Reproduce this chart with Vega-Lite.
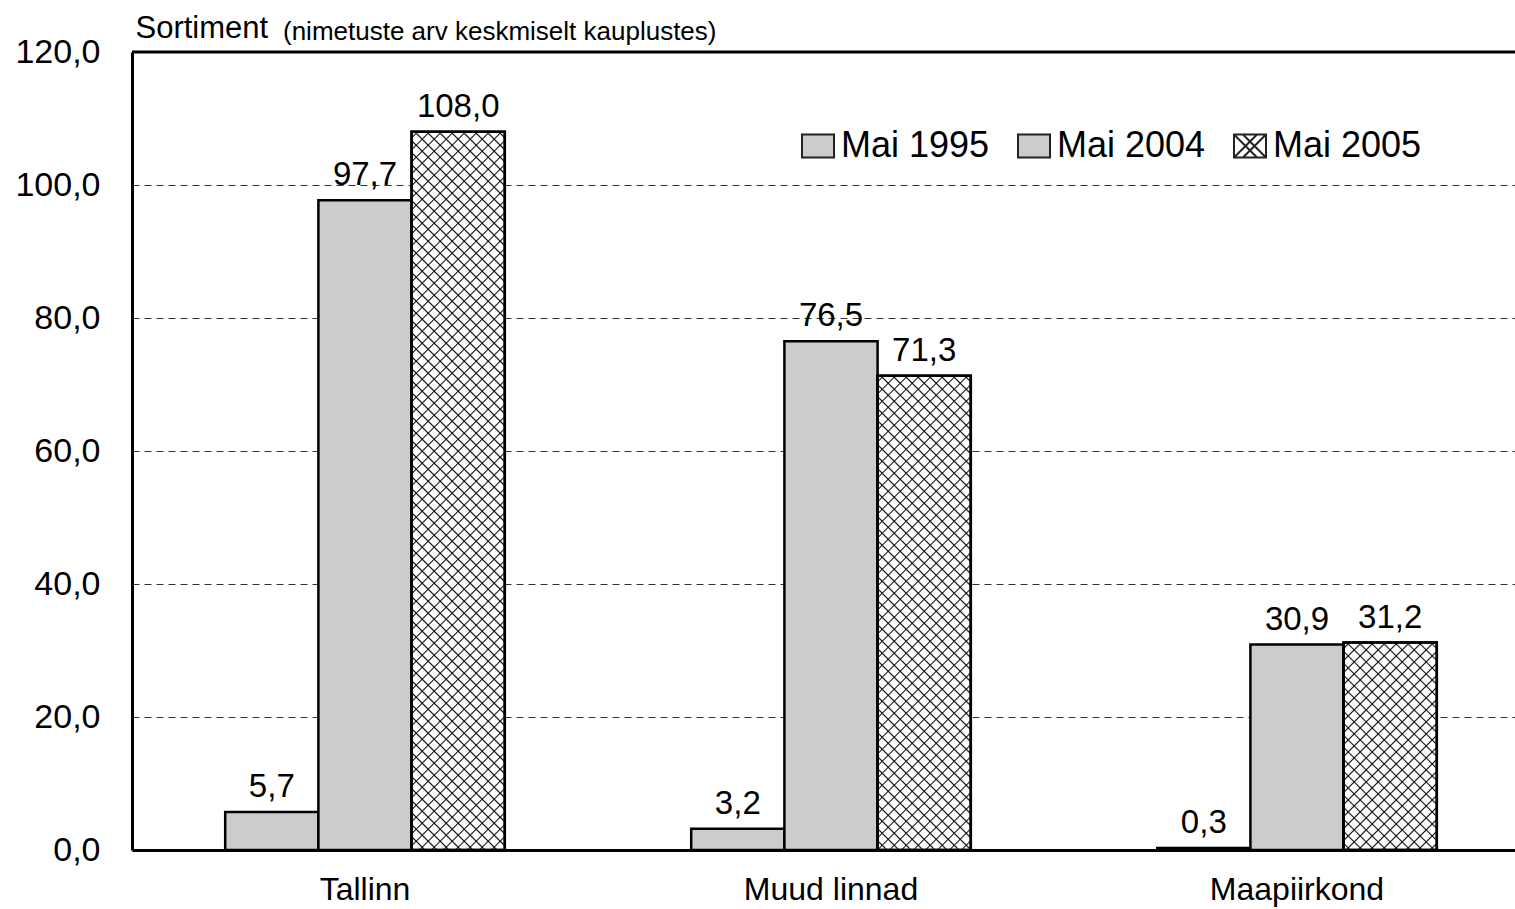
{
"$schema": "https://vega.github.io/schema/vega-lite/v6.json",
"width": 1383, "height": 798,
"autosize": {"type": "none"},
"padding": {"left": 132, "top": 52, "right": 0, "bottom": 59},
"background": "white",
"config": {
  "font": "Liberation Sans",
  "locale": {"number": {"decimal": ",", "thousands": " ", "grouping": [3], "currency": ["", " €"]}},
  "view": {"stroke": null},
  "axis": {"labelFont": "Liberation Sans", "labelColor": "black", "ticks": false, "domainColor": "black", "domainWidth": 3, "labelFontSize": 34}
},
"title": {"text": "(nimetuste arv keskmiselt kauplustes)", "anchor": "start", "frame": "group", "dx": 151, "dy": 54, "offset": 0, "fontSize": 26, "fontWeight": "normal", "font": "Liberation Sans", "color": "black", "baseline": "alphabetic"},
"datasets": {"d": [
  {"region": "Tallinn", "series": "Mai 1995", "value": 5.7},
  {"region": "Tallinn", "series": "Mai 2004", "value": 97.7},
  {"region": "Tallinn", "series": "Mai 2005", "value": 108.0},
  {"region": "Muud linnad", "series": "Mai 1995", "value": 3.2},
  {"region": "Muud linnad", "series": "Mai 2004", "value": 76.5},
  {"region": "Muud linnad", "series": "Mai 2005", "value": 71.3},
  {"region": "Maapiirkond", "series": "Mai 1995", "value": 0.3},
  {"region": "Maapiirkond", "series": "Mai 2004", "value": 30.9},
  {"region": "Maapiirkond", "series": "Mai 2005", "value": 31.2}
]},
"layer": [
{
  "data": {"name": "d"},
  "encoding": {
    "x": {"field": "region", "type": "nominal", "scale": {"domain": ["Tallinn", "Muud linnad", "Maapiirkond"], "range": [0, 1398], "paddingInner": 0, "paddingOuter": 0}, "axis": {"title": null, "labelPadding": 24, "labelFontSize": 32, "labelAngle": 0}},
    "xOffset": {"field": "series", "type": "nominal", "scale": {"domain": ["Mai 1995", "Mai 2004", "Mai 2005"], "paddingInner": 0, "paddingOuter": 1}},
    "y": {"field": "value", "type": "quantitative", "scale": {"domain": [0, 120], "nice": false, "zero": true}, "axis": {"values": [0, 20, 40, 60, 80, 100, 120], "format": ".1f", "grid": true, "gridColor": "#333", "gridDash": [7, 5], "gridWidth": 1.2, "labelPadding": 32, "title": "Sortiment", "titleAngle": 0, "titleAlign": "left", "titleBaseline": "alphabetic", "titleX": 3, "titleY": -15, "titleFontSize": 31, "titleFontWeight": "normal", "titleColor": "black", "titleFont": "Liberation Sans"}}
  },
  "layer": [
    {"mark": {"type": "bar", "stroke": "black", "strokeWidth": 2.5},
     "encoding": {"color": {"field": "series", "type": "nominal", "scale": {"domain": ["Mai 1995", "Mai 2004", "Mai 2005"], "range": ["#cccccc", "#cccccc", "#ffffff"]},
       "legend": {"title": null, "orient": "none", "legendX": 668, "legendY": 76, "direction": "horizontal", "symbolType": "M-1,-0.72H1V0.72H-1Z", "symbolSize": 1024, "symbolStrokeColor": "#222", "symbolStrokeWidth": 2, "labelFontSize": 36, "labelFont": "Liberation Sans", "labelColor": "black", "labelOffset": 5, "columnPadding": 24, "padding": 0,
         "encode": {"symbols": {"update": {"shape": {"signal": "datum.value === 'Mai 2005' ? 'M-1,-0.72H1V0.72H-1Z M-1,-0.72L0.44,0.72 M-0.44,-0.72L1,0.72 M1,-0.72L-0.44,0.72 M0.44,-0.72L-1,0.72' : 'M-1,-0.72H1V0.72H-1Z'"}, "stroke": {"value": "#222"}, "strokeWidth": {"value": 2}}}}}}}},
    {"transform": [{"filter": "datum.series === 'Mai 2005' && datum.region === 'Tallinn'"}],
     "mark": {"type": "bar", "strokeWidth": 0, "fill": {"gradient": "linear", "x1": 0, "y1": 0, "x2": 0.14926, "y2": 1.15022, "stops": [
{"offset":0.00534,"color":"#0000"},{"offset":0.00714,"color":"#111"},{"offset":0.00894,"color":"#0000"},{"offset":0.01963,"color":"#0000"},{"offset":0.02143,"color":"#111"},{"offset":0.02323,"color":"#0000"},{"offset":0.03391,"color":"#0000"},{"offset":0.03571,"color":"#111"},{"offset":0.03751,"color":"#0000"},{"offset":0.0482,"color":"#0000"},{"offset":0.05,"color":"#111"},{"offset":0.0518,"color":"#0000"},{"offset":0.06249,"color":"#0000"},{"offset":0.06429,"color":"#111"},{"offset":0.06609,"color":"#0000"},{"offset":0.07677,"color":"#0000"},{"offset":0.07857,"color":"#111"},{"offset":0.08037,"color":"#0000"},{"offset":0.09106,"color":"#0000"},{"offset":0.09286,"color":"#111"},{"offset":0.09466,"color":"#0000"},
{"offset":0.10534,"color":"#0000"},{"offset":0.10714,"color":"#111"},{"offset":0.10894,"color":"#0000"},{"offset":0.11963,"color":"#0000"},{"offset":0.12143,"color":"#111"},{"offset":0.12323,"color":"#0000"},{"offset":0.13391,"color":"#0000"},{"offset":0.13571,"color":"#111"},{"offset":0.13751,"color":"#0000"},{"offset":0.1482,"color":"#0000"},{"offset":0.15,"color":"#111"},{"offset":0.1518,"color":"#0000"},{"offset":0.16249,"color":"#0000"},{"offset":0.16429,"color":"#111"},{"offset":0.16609,"color":"#0000"},{"offset":0.17677,"color":"#0000"},{"offset":0.17857,"color":"#111"},{"offset":0.18037,"color":"#0000"},{"offset":0.19106,"color":"#0000"},{"offset":0.19286,"color":"#111"},{"offset":0.19466,"color":"#0000"},
{"offset":0.20534,"color":"#0000"},{"offset":0.20714,"color":"#111"},{"offset":0.20894,"color":"#0000"},{"offset":0.21963,"color":"#0000"},{"offset":0.22143,"color":"#111"},{"offset":0.22323,"color":"#0000"},{"offset":0.23391,"color":"#0000"},{"offset":0.23571,"color":"#111"},{"offset":0.23751,"color":"#0000"},{"offset":0.2482,"color":"#0000"},{"offset":0.25,"color":"#111"},{"offset":0.2518,"color":"#0000"},{"offset":0.26249,"color":"#0000"},{"offset":0.26429,"color":"#111"},{"offset":0.26609,"color":"#0000"},{"offset":0.27677,"color":"#0000"},{"offset":0.27857,"color":"#111"},{"offset":0.28037,"color":"#0000"},{"offset":0.29106,"color":"#0000"},{"offset":0.29286,"color":"#111"},{"offset":0.29466,"color":"#0000"},
{"offset":0.30534,"color":"#0000"},{"offset":0.30714,"color":"#111"},{"offset":0.30894,"color":"#0000"},{"offset":0.31963,"color":"#0000"},{"offset":0.32143,"color":"#111"},{"offset":0.32323,"color":"#0000"},{"offset":0.33391,"color":"#0000"},{"offset":0.33571,"color":"#111"},{"offset":0.33751,"color":"#0000"},{"offset":0.3482,"color":"#0000"},{"offset":0.35,"color":"#111"},{"offset":0.3518,"color":"#0000"},{"offset":0.36249,"color":"#0000"},{"offset":0.36429,"color":"#111"},{"offset":0.36609,"color":"#0000"},{"offset":0.37677,"color":"#0000"},{"offset":0.37857,"color":"#111"},{"offset":0.38037,"color":"#0000"},{"offset":0.39106,"color":"#0000"},{"offset":0.39286,"color":"#111"},{"offset":0.39466,"color":"#0000"},
{"offset":0.40534,"color":"#0000"},{"offset":0.40714,"color":"#111"},{"offset":0.40894,"color":"#0000"},{"offset":0.41963,"color":"#0000"},{"offset":0.42143,"color":"#111"},{"offset":0.42323,"color":"#0000"},{"offset":0.43391,"color":"#0000"},{"offset":0.43571,"color":"#111"},{"offset":0.43751,"color":"#0000"},{"offset":0.4482,"color":"#0000"},{"offset":0.45,"color":"#111"},{"offset":0.4518,"color":"#0000"},{"offset":0.46249,"color":"#0000"},{"offset":0.46429,"color":"#111"},{"offset":0.46609,"color":"#0000"},{"offset":0.47677,"color":"#0000"},{"offset":0.47857,"color":"#111"},{"offset":0.48037,"color":"#0000"},{"offset":0.49106,"color":"#0000"},{"offset":0.49286,"color":"#111"},{"offset":0.49466,"color":"#0000"},
{"offset":0.50534,"color":"#0000"},{"offset":0.50714,"color":"#111"},{"offset":0.50894,"color":"#0000"},{"offset":0.51963,"color":"#0000"},{"offset":0.52143,"color":"#111"},{"offset":0.52323,"color":"#0000"},{"offset":0.53391,"color":"#0000"},{"offset":0.53571,"color":"#111"},{"offset":0.53751,"color":"#0000"},{"offset":0.5482,"color":"#0000"},{"offset":0.55,"color":"#111"},{"offset":0.5518,"color":"#0000"},{"offset":0.56249,"color":"#0000"},{"offset":0.56429,"color":"#111"},{"offset":0.56609,"color":"#0000"},{"offset":0.57677,"color":"#0000"},{"offset":0.57857,"color":"#111"},{"offset":0.58037,"color":"#0000"},{"offset":0.59106,"color":"#0000"},{"offset":0.59286,"color":"#111"},{"offset":0.59466,"color":"#0000"},
{"offset":0.60534,"color":"#0000"},{"offset":0.60714,"color":"#111"},{"offset":0.60894,"color":"#0000"},{"offset":0.61963,"color":"#0000"},{"offset":0.62143,"color":"#111"},{"offset":0.62323,"color":"#0000"},{"offset":0.63391,"color":"#0000"},{"offset":0.63571,"color":"#111"},{"offset":0.63751,"color":"#0000"},{"offset":0.6482,"color":"#0000"},{"offset":0.65,"color":"#111"},{"offset":0.6518,"color":"#0000"},{"offset":0.66249,"color":"#0000"},{"offset":0.66429,"color":"#111"},{"offset":0.66609,"color":"#0000"},{"offset":0.67677,"color":"#0000"},{"offset":0.67857,"color":"#111"},{"offset":0.68037,"color":"#0000"},{"offset":0.69106,"color":"#0000"},{"offset":0.69286,"color":"#111"},{"offset":0.69466,"color":"#0000"},
{"offset":0.70534,"color":"#0000"},{"offset":0.70714,"color":"#111"},{"offset":0.70894,"color":"#0000"},{"offset":0.71963,"color":"#0000"},{"offset":0.72143,"color":"#111"},{"offset":0.72323,"color":"#0000"},{"offset":0.73391,"color":"#0000"},{"offset":0.73571,"color":"#111"},{"offset":0.73751,"color":"#0000"},{"offset":0.7482,"color":"#0000"},{"offset":0.75,"color":"#111"},{"offset":0.7518,"color":"#0000"},{"offset":0.76249,"color":"#0000"},{"offset":0.76429,"color":"#111"},{"offset":0.76609,"color":"#0000"},{"offset":0.77677,"color":"#0000"},{"offset":0.77857,"color":"#111"},{"offset":0.78037,"color":"#0000"},{"offset":0.79106,"color":"#0000"},{"offset":0.79286,"color":"#111"},{"offset":0.79466,"color":"#0000"},
{"offset":0.80534,"color":"#0000"},{"offset":0.80714,"color":"#111"},{"offset":0.80894,"color":"#0000"},{"offset":0.81963,"color":"#0000"},{"offset":0.82143,"color":"#111"},{"offset":0.82323,"color":"#0000"},{"offset":0.83391,"color":"#0000"},{"offset":0.83571,"color":"#111"},{"offset":0.83751,"color":"#0000"},{"offset":0.8482,"color":"#0000"},{"offset":0.85,"color":"#111"},{"offset":0.8518,"color":"#0000"},{"offset":0.86249,"color":"#0000"},{"offset":0.86429,"color":"#111"},{"offset":0.86609,"color":"#0000"},{"offset":0.87677,"color":"#0000"},{"offset":0.87857,"color":"#111"},{"offset":0.88037,"color":"#0000"},{"offset":0.89106,"color":"#0000"},{"offset":0.89286,"color":"#111"},{"offset":0.89466,"color":"#0000"},
{"offset":0.90534,"color":"#0000"},{"offset":0.90714,"color":"#111"},{"offset":0.90894,"color":"#0000"},{"offset":0.91963,"color":"#0000"},{"offset":0.92143,"color":"#111"},{"offset":0.92323,"color":"#0000"},{"offset":0.93391,"color":"#0000"},{"offset":0.93571,"color":"#111"},{"offset":0.93751,"color":"#0000"},{"offset":0.9482,"color":"#0000"},{"offset":0.95,"color":"#111"},{"offset":0.9518,"color":"#0000"},{"offset":0.96249,"color":"#0000"},{"offset":0.96429,"color":"#111"},{"offset":0.96609,"color":"#0000"}
]}}},
    {"transform": [{"filter": "datum.series === 'Mai 2005' && datum.region === 'Tallinn'"}],
     "mark": {"type": "bar", "strokeWidth": 0, "fill": {"gradient": "linear", "x1": 1, "y1": 0, "x2": 0.85074, "y2": 1.15022, "stops": [
{"offset":0.00534,"color":"#0000"},{"offset":0.00714,"color":"#111"},{"offset":0.00894,"color":"#0000"},{"offset":0.01963,"color":"#0000"},{"offset":0.02143,"color":"#111"},{"offset":0.02323,"color":"#0000"},{"offset":0.03391,"color":"#0000"},{"offset":0.03571,"color":"#111"},{"offset":0.03751,"color":"#0000"},{"offset":0.0482,"color":"#0000"},{"offset":0.05,"color":"#111"},{"offset":0.0518,"color":"#0000"},{"offset":0.06249,"color":"#0000"},{"offset":0.06429,"color":"#111"},{"offset":0.06609,"color":"#0000"},{"offset":0.07677,"color":"#0000"},{"offset":0.07857,"color":"#111"},{"offset":0.08037,"color":"#0000"},{"offset":0.09106,"color":"#0000"},{"offset":0.09286,"color":"#111"},{"offset":0.09466,"color":"#0000"},
{"offset":0.10534,"color":"#0000"},{"offset":0.10714,"color":"#111"},{"offset":0.10894,"color":"#0000"},{"offset":0.11963,"color":"#0000"},{"offset":0.12143,"color":"#111"},{"offset":0.12323,"color":"#0000"},{"offset":0.13391,"color":"#0000"},{"offset":0.13571,"color":"#111"},{"offset":0.13751,"color":"#0000"},{"offset":0.1482,"color":"#0000"},{"offset":0.15,"color":"#111"},{"offset":0.1518,"color":"#0000"},{"offset":0.16249,"color":"#0000"},{"offset":0.16429,"color":"#111"},{"offset":0.16609,"color":"#0000"},{"offset":0.17677,"color":"#0000"},{"offset":0.17857,"color":"#111"},{"offset":0.18037,"color":"#0000"},{"offset":0.19106,"color":"#0000"},{"offset":0.19286,"color":"#111"},{"offset":0.19466,"color":"#0000"},
{"offset":0.20534,"color":"#0000"},{"offset":0.20714,"color":"#111"},{"offset":0.20894,"color":"#0000"},{"offset":0.21963,"color":"#0000"},{"offset":0.22143,"color":"#111"},{"offset":0.22323,"color":"#0000"},{"offset":0.23391,"color":"#0000"},{"offset":0.23571,"color":"#111"},{"offset":0.23751,"color":"#0000"},{"offset":0.2482,"color":"#0000"},{"offset":0.25,"color":"#111"},{"offset":0.2518,"color":"#0000"},{"offset":0.26249,"color":"#0000"},{"offset":0.26429,"color":"#111"},{"offset":0.26609,"color":"#0000"},{"offset":0.27677,"color":"#0000"},{"offset":0.27857,"color":"#111"},{"offset":0.28037,"color":"#0000"},{"offset":0.29106,"color":"#0000"},{"offset":0.29286,"color":"#111"},{"offset":0.29466,"color":"#0000"},
{"offset":0.30534,"color":"#0000"},{"offset":0.30714,"color":"#111"},{"offset":0.30894,"color":"#0000"},{"offset":0.31963,"color":"#0000"},{"offset":0.32143,"color":"#111"},{"offset":0.32323,"color":"#0000"},{"offset":0.33391,"color":"#0000"},{"offset":0.33571,"color":"#111"},{"offset":0.33751,"color":"#0000"},{"offset":0.3482,"color":"#0000"},{"offset":0.35,"color":"#111"},{"offset":0.3518,"color":"#0000"},{"offset":0.36249,"color":"#0000"},{"offset":0.36429,"color":"#111"},{"offset":0.36609,"color":"#0000"},{"offset":0.37677,"color":"#0000"},{"offset":0.37857,"color":"#111"},{"offset":0.38037,"color":"#0000"},{"offset":0.39106,"color":"#0000"},{"offset":0.39286,"color":"#111"},{"offset":0.39466,"color":"#0000"},
{"offset":0.40534,"color":"#0000"},{"offset":0.40714,"color":"#111"},{"offset":0.40894,"color":"#0000"},{"offset":0.41963,"color":"#0000"},{"offset":0.42143,"color":"#111"},{"offset":0.42323,"color":"#0000"},{"offset":0.43391,"color":"#0000"},{"offset":0.43571,"color":"#111"},{"offset":0.43751,"color":"#0000"},{"offset":0.4482,"color":"#0000"},{"offset":0.45,"color":"#111"},{"offset":0.4518,"color":"#0000"},{"offset":0.46249,"color":"#0000"},{"offset":0.46429,"color":"#111"},{"offset":0.46609,"color":"#0000"},{"offset":0.47677,"color":"#0000"},{"offset":0.47857,"color":"#111"},{"offset":0.48037,"color":"#0000"},{"offset":0.49106,"color":"#0000"},{"offset":0.49286,"color":"#111"},{"offset":0.49466,"color":"#0000"},
{"offset":0.50534,"color":"#0000"},{"offset":0.50714,"color":"#111"},{"offset":0.50894,"color":"#0000"},{"offset":0.51963,"color":"#0000"},{"offset":0.52143,"color":"#111"},{"offset":0.52323,"color":"#0000"},{"offset":0.53391,"color":"#0000"},{"offset":0.53571,"color":"#111"},{"offset":0.53751,"color":"#0000"},{"offset":0.5482,"color":"#0000"},{"offset":0.55,"color":"#111"},{"offset":0.5518,"color":"#0000"},{"offset":0.56249,"color":"#0000"},{"offset":0.56429,"color":"#111"},{"offset":0.56609,"color":"#0000"},{"offset":0.57677,"color":"#0000"},{"offset":0.57857,"color":"#111"},{"offset":0.58037,"color":"#0000"},{"offset":0.59106,"color":"#0000"},{"offset":0.59286,"color":"#111"},{"offset":0.59466,"color":"#0000"},
{"offset":0.60534,"color":"#0000"},{"offset":0.60714,"color":"#111"},{"offset":0.60894,"color":"#0000"},{"offset":0.61963,"color":"#0000"},{"offset":0.62143,"color":"#111"},{"offset":0.62323,"color":"#0000"},{"offset":0.63391,"color":"#0000"},{"offset":0.63571,"color":"#111"},{"offset":0.63751,"color":"#0000"},{"offset":0.6482,"color":"#0000"},{"offset":0.65,"color":"#111"},{"offset":0.6518,"color":"#0000"},{"offset":0.66249,"color":"#0000"},{"offset":0.66429,"color":"#111"},{"offset":0.66609,"color":"#0000"},{"offset":0.67677,"color":"#0000"},{"offset":0.67857,"color":"#111"},{"offset":0.68037,"color":"#0000"},{"offset":0.69106,"color":"#0000"},{"offset":0.69286,"color":"#111"},{"offset":0.69466,"color":"#0000"},
{"offset":0.70534,"color":"#0000"},{"offset":0.70714,"color":"#111"},{"offset":0.70894,"color":"#0000"},{"offset":0.71963,"color":"#0000"},{"offset":0.72143,"color":"#111"},{"offset":0.72323,"color":"#0000"},{"offset":0.73391,"color":"#0000"},{"offset":0.73571,"color":"#111"},{"offset":0.73751,"color":"#0000"},{"offset":0.7482,"color":"#0000"},{"offset":0.75,"color":"#111"},{"offset":0.7518,"color":"#0000"},{"offset":0.76249,"color":"#0000"},{"offset":0.76429,"color":"#111"},{"offset":0.76609,"color":"#0000"},{"offset":0.77677,"color":"#0000"},{"offset":0.77857,"color":"#111"},{"offset":0.78037,"color":"#0000"},{"offset":0.79106,"color":"#0000"},{"offset":0.79286,"color":"#111"},{"offset":0.79466,"color":"#0000"},
{"offset":0.80534,"color":"#0000"},{"offset":0.80714,"color":"#111"},{"offset":0.80894,"color":"#0000"},{"offset":0.81963,"color":"#0000"},{"offset":0.82143,"color":"#111"},{"offset":0.82323,"color":"#0000"},{"offset":0.83391,"color":"#0000"},{"offset":0.83571,"color":"#111"},{"offset":0.83751,"color":"#0000"},{"offset":0.8482,"color":"#0000"},{"offset":0.85,"color":"#111"},{"offset":0.8518,"color":"#0000"},{"offset":0.86249,"color":"#0000"},{"offset":0.86429,"color":"#111"},{"offset":0.86609,"color":"#0000"},{"offset":0.87677,"color":"#0000"},{"offset":0.87857,"color":"#111"},{"offset":0.88037,"color":"#0000"},{"offset":0.89106,"color":"#0000"},{"offset":0.89286,"color":"#111"},{"offset":0.89466,"color":"#0000"},
{"offset":0.90534,"color":"#0000"},{"offset":0.90714,"color":"#111"},{"offset":0.90894,"color":"#0000"},{"offset":0.91963,"color":"#0000"},{"offset":0.92143,"color":"#111"},{"offset":0.92323,"color":"#0000"},{"offset":0.93391,"color":"#0000"},{"offset":0.93571,"color":"#111"},{"offset":0.93751,"color":"#0000"},{"offset":0.9482,"color":"#0000"},{"offset":0.95,"color":"#111"},{"offset":0.9518,"color":"#0000"},{"offset":0.96249,"color":"#0000"},{"offset":0.96429,"color":"#111"},{"offset":0.96609,"color":"#0000"}
]}}},
    {"transform": [{"filter": "datum.series === 'Mai 2005' && datum.region === 'Muud linnad'"}],
     "mark": {"type": "bar", "strokeWidth": 0, "fill": {"gradient": "linear", "x1": 0, "y1": 0, "x2": 0.33528, "y2": 1.7057, "stops": [
{"offset":0.00534,"color":"#0000"},{"offset":0.00714,"color":"#111"},{"offset":0.00894,"color":"#0000"},{"offset":0.01963,"color":"#0000"},{"offset":0.02143,"color":"#111"},{"offset":0.02323,"color":"#0000"},{"offset":0.03391,"color":"#0000"},{"offset":0.03571,"color":"#111"},{"offset":0.03751,"color":"#0000"},{"offset":0.0482,"color":"#0000"},{"offset":0.05,"color":"#111"},{"offset":0.0518,"color":"#0000"},{"offset":0.06249,"color":"#0000"},{"offset":0.06429,"color":"#111"},{"offset":0.06609,"color":"#0000"},{"offset":0.07677,"color":"#0000"},{"offset":0.07857,"color":"#111"},{"offset":0.08037,"color":"#0000"},{"offset":0.09106,"color":"#0000"},{"offset":0.09286,"color":"#111"},{"offset":0.09466,"color":"#0000"},
{"offset":0.10534,"color":"#0000"},{"offset":0.10714,"color":"#111"},{"offset":0.10894,"color":"#0000"},{"offset":0.11963,"color":"#0000"},{"offset":0.12143,"color":"#111"},{"offset":0.12323,"color":"#0000"},{"offset":0.13391,"color":"#0000"},{"offset":0.13571,"color":"#111"},{"offset":0.13751,"color":"#0000"},{"offset":0.1482,"color":"#0000"},{"offset":0.15,"color":"#111"},{"offset":0.1518,"color":"#0000"},{"offset":0.16249,"color":"#0000"},{"offset":0.16429,"color":"#111"},{"offset":0.16609,"color":"#0000"},{"offset":0.17677,"color":"#0000"},{"offset":0.17857,"color":"#111"},{"offset":0.18037,"color":"#0000"},{"offset":0.19106,"color":"#0000"},{"offset":0.19286,"color":"#111"},{"offset":0.19466,"color":"#0000"},
{"offset":0.20534,"color":"#0000"},{"offset":0.20714,"color":"#111"},{"offset":0.20894,"color":"#0000"},{"offset":0.21963,"color":"#0000"},{"offset":0.22143,"color":"#111"},{"offset":0.22323,"color":"#0000"},{"offset":0.23391,"color":"#0000"},{"offset":0.23571,"color":"#111"},{"offset":0.23751,"color":"#0000"},{"offset":0.2482,"color":"#0000"},{"offset":0.25,"color":"#111"},{"offset":0.2518,"color":"#0000"},{"offset":0.26249,"color":"#0000"},{"offset":0.26429,"color":"#111"},{"offset":0.26609,"color":"#0000"},{"offset":0.27677,"color":"#0000"},{"offset":0.27857,"color":"#111"},{"offset":0.28037,"color":"#0000"},{"offset":0.29106,"color":"#0000"},{"offset":0.29286,"color":"#111"},{"offset":0.29466,"color":"#0000"},
{"offset":0.30534,"color":"#0000"},{"offset":0.30714,"color":"#111"},{"offset":0.30894,"color":"#0000"},{"offset":0.31963,"color":"#0000"},{"offset":0.32143,"color":"#111"},{"offset":0.32323,"color":"#0000"},{"offset":0.33391,"color":"#0000"},{"offset":0.33571,"color":"#111"},{"offset":0.33751,"color":"#0000"},{"offset":0.3482,"color":"#0000"},{"offset":0.35,"color":"#111"},{"offset":0.3518,"color":"#0000"},{"offset":0.36249,"color":"#0000"},{"offset":0.36429,"color":"#111"},{"offset":0.36609,"color":"#0000"},{"offset":0.37677,"color":"#0000"},{"offset":0.37857,"color":"#111"},{"offset":0.38037,"color":"#0000"},{"offset":0.39106,"color":"#0000"},{"offset":0.39286,"color":"#111"},{"offset":0.39466,"color":"#0000"},
{"offset":0.40534,"color":"#0000"},{"offset":0.40714,"color":"#111"},{"offset":0.40894,"color":"#0000"},{"offset":0.41963,"color":"#0000"},{"offset":0.42143,"color":"#111"},{"offset":0.42323,"color":"#0000"},{"offset":0.43391,"color":"#0000"},{"offset":0.43571,"color":"#111"},{"offset":0.43751,"color":"#0000"},{"offset":0.4482,"color":"#0000"},{"offset":0.45,"color":"#111"},{"offset":0.4518,"color":"#0000"},{"offset":0.46249,"color":"#0000"},{"offset":0.46429,"color":"#111"},{"offset":0.46609,"color":"#0000"},{"offset":0.47677,"color":"#0000"},{"offset":0.47857,"color":"#111"},{"offset":0.48037,"color":"#0000"},{"offset":0.49106,"color":"#0000"},{"offset":0.49286,"color":"#111"},{"offset":0.49466,"color":"#0000"},
{"offset":0.50534,"color":"#0000"},{"offset":0.50714,"color":"#111"},{"offset":0.50894,"color":"#0000"},{"offset":0.51963,"color":"#0000"},{"offset":0.52143,"color":"#111"},{"offset":0.52323,"color":"#0000"},{"offset":0.53391,"color":"#0000"},{"offset":0.53571,"color":"#111"},{"offset":0.53751,"color":"#0000"},{"offset":0.5482,"color":"#0000"},{"offset":0.55,"color":"#111"},{"offset":0.5518,"color":"#0000"},{"offset":0.56249,"color":"#0000"},{"offset":0.56429,"color":"#111"},{"offset":0.56609,"color":"#0000"},{"offset":0.57677,"color":"#0000"},{"offset":0.57857,"color":"#111"},{"offset":0.58037,"color":"#0000"},{"offset":0.59106,"color":"#0000"},{"offset":0.59286,"color":"#111"},{"offset":0.59466,"color":"#0000"},
{"offset":0.60534,"color":"#0000"},{"offset":0.60714,"color":"#111"},{"offset":0.60894,"color":"#0000"},{"offset":0.61963,"color":"#0000"},{"offset":0.62143,"color":"#111"},{"offset":0.62323,"color":"#0000"},{"offset":0.63391,"color":"#0000"},{"offset":0.63571,"color":"#111"},{"offset":0.63751,"color":"#0000"},{"offset":0.6482,"color":"#0000"},{"offset":0.65,"color":"#111"},{"offset":0.6518,"color":"#0000"},{"offset":0.66249,"color":"#0000"},{"offset":0.66429,"color":"#111"},{"offset":0.66609,"color":"#0000"},{"offset":0.67677,"color":"#0000"},{"offset":0.67857,"color":"#111"},{"offset":0.68037,"color":"#0000"}
]}}},
    {"transform": [{"filter": "datum.series === 'Mai 2005' && datum.region === 'Muud linnad'"}],
     "mark": {"type": "bar", "strokeWidth": 0, "fill": {"gradient": "linear", "x1": 1, "y1": 0, "x2": 0.66472, "y2": 1.7057, "stops": [
{"offset":0.00534,"color":"#0000"},{"offset":0.00714,"color":"#111"},{"offset":0.00894,"color":"#0000"},{"offset":0.01963,"color":"#0000"},{"offset":0.02143,"color":"#111"},{"offset":0.02323,"color":"#0000"},{"offset":0.03391,"color":"#0000"},{"offset":0.03571,"color":"#111"},{"offset":0.03751,"color":"#0000"},{"offset":0.0482,"color":"#0000"},{"offset":0.05,"color":"#111"},{"offset":0.0518,"color":"#0000"},{"offset":0.06249,"color":"#0000"},{"offset":0.06429,"color":"#111"},{"offset":0.06609,"color":"#0000"},{"offset":0.07677,"color":"#0000"},{"offset":0.07857,"color":"#111"},{"offset":0.08037,"color":"#0000"},{"offset":0.09106,"color":"#0000"},{"offset":0.09286,"color":"#111"},{"offset":0.09466,"color":"#0000"},
{"offset":0.10534,"color":"#0000"},{"offset":0.10714,"color":"#111"},{"offset":0.10894,"color":"#0000"},{"offset":0.11963,"color":"#0000"},{"offset":0.12143,"color":"#111"},{"offset":0.12323,"color":"#0000"},{"offset":0.13391,"color":"#0000"},{"offset":0.13571,"color":"#111"},{"offset":0.13751,"color":"#0000"},{"offset":0.1482,"color":"#0000"},{"offset":0.15,"color":"#111"},{"offset":0.1518,"color":"#0000"},{"offset":0.16249,"color":"#0000"},{"offset":0.16429,"color":"#111"},{"offset":0.16609,"color":"#0000"},{"offset":0.17677,"color":"#0000"},{"offset":0.17857,"color":"#111"},{"offset":0.18037,"color":"#0000"},{"offset":0.19106,"color":"#0000"},{"offset":0.19286,"color":"#111"},{"offset":0.19466,"color":"#0000"},
{"offset":0.20534,"color":"#0000"},{"offset":0.20714,"color":"#111"},{"offset":0.20894,"color":"#0000"},{"offset":0.21963,"color":"#0000"},{"offset":0.22143,"color":"#111"},{"offset":0.22323,"color":"#0000"},{"offset":0.23391,"color":"#0000"},{"offset":0.23571,"color":"#111"},{"offset":0.23751,"color":"#0000"},{"offset":0.2482,"color":"#0000"},{"offset":0.25,"color":"#111"},{"offset":0.2518,"color":"#0000"},{"offset":0.26249,"color":"#0000"},{"offset":0.26429,"color":"#111"},{"offset":0.26609,"color":"#0000"},{"offset":0.27677,"color":"#0000"},{"offset":0.27857,"color":"#111"},{"offset":0.28037,"color":"#0000"},{"offset":0.29106,"color":"#0000"},{"offset":0.29286,"color":"#111"},{"offset":0.29466,"color":"#0000"},
{"offset":0.30534,"color":"#0000"},{"offset":0.30714,"color":"#111"},{"offset":0.30894,"color":"#0000"},{"offset":0.31963,"color":"#0000"},{"offset":0.32143,"color":"#111"},{"offset":0.32323,"color":"#0000"},{"offset":0.33391,"color":"#0000"},{"offset":0.33571,"color":"#111"},{"offset":0.33751,"color":"#0000"},{"offset":0.3482,"color":"#0000"},{"offset":0.35,"color":"#111"},{"offset":0.3518,"color":"#0000"},{"offset":0.36249,"color":"#0000"},{"offset":0.36429,"color":"#111"},{"offset":0.36609,"color":"#0000"},{"offset":0.37677,"color":"#0000"},{"offset":0.37857,"color":"#111"},{"offset":0.38037,"color":"#0000"},{"offset":0.39106,"color":"#0000"},{"offset":0.39286,"color":"#111"},{"offset":0.39466,"color":"#0000"},
{"offset":0.40534,"color":"#0000"},{"offset":0.40714,"color":"#111"},{"offset":0.40894,"color":"#0000"},{"offset":0.41963,"color":"#0000"},{"offset":0.42143,"color":"#111"},{"offset":0.42323,"color":"#0000"},{"offset":0.43391,"color":"#0000"},{"offset":0.43571,"color":"#111"},{"offset":0.43751,"color":"#0000"},{"offset":0.4482,"color":"#0000"},{"offset":0.45,"color":"#111"},{"offset":0.4518,"color":"#0000"},{"offset":0.46249,"color":"#0000"},{"offset":0.46429,"color":"#111"},{"offset":0.46609,"color":"#0000"},{"offset":0.47677,"color":"#0000"},{"offset":0.47857,"color":"#111"},{"offset":0.48037,"color":"#0000"},{"offset":0.49106,"color":"#0000"},{"offset":0.49286,"color":"#111"},{"offset":0.49466,"color":"#0000"},
{"offset":0.50534,"color":"#0000"},{"offset":0.50714,"color":"#111"},{"offset":0.50894,"color":"#0000"},{"offset":0.51963,"color":"#0000"},{"offset":0.52143,"color":"#111"},{"offset":0.52323,"color":"#0000"},{"offset":0.53391,"color":"#0000"},{"offset":0.53571,"color":"#111"},{"offset":0.53751,"color":"#0000"},{"offset":0.5482,"color":"#0000"},{"offset":0.55,"color":"#111"},{"offset":0.5518,"color":"#0000"},{"offset":0.56249,"color":"#0000"},{"offset":0.56429,"color":"#111"},{"offset":0.56609,"color":"#0000"},{"offset":0.57677,"color":"#0000"},{"offset":0.57857,"color":"#111"},{"offset":0.58037,"color":"#0000"},{"offset":0.59106,"color":"#0000"},{"offset":0.59286,"color":"#111"},{"offset":0.59466,"color":"#0000"},
{"offset":0.60534,"color":"#0000"},{"offset":0.60714,"color":"#111"},{"offset":0.60894,"color":"#0000"},{"offset":0.61963,"color":"#0000"},{"offset":0.62143,"color":"#111"},{"offset":0.62323,"color":"#0000"},{"offset":0.63391,"color":"#0000"},{"offset":0.63571,"color":"#111"},{"offset":0.63751,"color":"#0000"},{"offset":0.6482,"color":"#0000"},{"offset":0.65,"color":"#111"},{"offset":0.6518,"color":"#0000"},{"offset":0.66249,"color":"#0000"},{"offset":0.66429,"color":"#111"},{"offset":0.66609,"color":"#0000"},{"offset":0.67677,"color":"#0000"},{"offset":0.67857,"color":"#111"},{"offset":0.68037,"color":"#0000"}
]}}},
    {"transform": [{"filter": "datum.series === 'Mai 2005' && datum.region === 'Maapiirkond'"}],
     "mark": {"type": "bar", "strokeWidth": 0, "fill": {"gradient": "linear", "x1": 0, "y1": 0, "x2": 1.51328, "y2": 3.36882, "stops": [
{"offset":0.00534,"color":"#0000"},{"offset":0.00714,"color":"#111"},{"offset":0.00894,"color":"#0000"},{"offset":0.01963,"color":"#0000"},{"offset":0.02143,"color":"#111"},{"offset":0.02323,"color":"#0000"},{"offset":0.03391,"color":"#0000"},{"offset":0.03571,"color":"#111"},{"offset":0.03751,"color":"#0000"},{"offset":0.0482,"color":"#0000"},{"offset":0.05,"color":"#111"},{"offset":0.0518,"color":"#0000"},{"offset":0.06249,"color":"#0000"},{"offset":0.06429,"color":"#111"},{"offset":0.06609,"color":"#0000"},{"offset":0.07677,"color":"#0000"},{"offset":0.07857,"color":"#111"},{"offset":0.08037,"color":"#0000"},{"offset":0.09106,"color":"#0000"},{"offset":0.09286,"color":"#111"},{"offset":0.09466,"color":"#0000"},
{"offset":0.10534,"color":"#0000"},{"offset":0.10714,"color":"#111"},{"offset":0.10894,"color":"#0000"},{"offset":0.11963,"color":"#0000"},{"offset":0.12143,"color":"#111"},{"offset":0.12323,"color":"#0000"},{"offset":0.13391,"color":"#0000"},{"offset":0.13571,"color":"#111"},{"offset":0.13751,"color":"#0000"},{"offset":0.1482,"color":"#0000"},{"offset":0.15,"color":"#111"},{"offset":0.1518,"color":"#0000"},{"offset":0.16249,"color":"#0000"},{"offset":0.16429,"color":"#111"},{"offset":0.16609,"color":"#0000"},{"offset":0.17677,"color":"#0000"},{"offset":0.17857,"color":"#111"},{"offset":0.18037,"color":"#0000"},{"offset":0.19106,"color":"#0000"},{"offset":0.19286,"color":"#111"},{"offset":0.19466,"color":"#0000"},
{"offset":0.20534,"color":"#0000"},{"offset":0.20714,"color":"#111"},{"offset":0.20894,"color":"#0000"},{"offset":0.21963,"color":"#0000"},{"offset":0.22143,"color":"#111"},{"offset":0.22323,"color":"#0000"},{"offset":0.23391,"color":"#0000"},{"offset":0.23571,"color":"#111"},{"offset":0.23751,"color":"#0000"},{"offset":0.2482,"color":"#0000"},{"offset":0.25,"color":"#111"},{"offset":0.2518,"color":"#0000"},{"offset":0.26249,"color":"#0000"},{"offset":0.26429,"color":"#111"},{"offset":0.26609,"color":"#0000"},{"offset":0.27677,"color":"#0000"},{"offset":0.27857,"color":"#111"},{"offset":0.28037,"color":"#0000"},{"offset":0.29106,"color":"#0000"},{"offset":0.29286,"color":"#111"},{"offset":0.29466,"color":"#0000"},
{"offset":0.30534,"color":"#0000"},{"offset":0.30714,"color":"#111"},{"offset":0.30894,"color":"#0000"},{"offset":0.31963,"color":"#0000"},{"offset":0.32143,"color":"#111"},{"offset":0.32323,"color":"#0000"},{"offset":0.33391,"color":"#0000"},{"offset":0.33571,"color":"#111"},{"offset":0.33751,"color":"#0000"},{"offset":0.3482,"color":"#0000"},{"offset":0.35,"color":"#111"},{"offset":0.3518,"color":"#0000"},{"offset":0.36249,"color":"#0000"},{"offset":0.36429,"color":"#111"},{"offset":0.36609,"color":"#0000"}
]}}},
    {"transform": [{"filter": "datum.series === 'Mai 2005' && datum.region === 'Maapiirkond'"}],
     "mark": {"type": "bar", "strokeWidth": 0, "fill": {"gradient": "linear", "x1": 1, "y1": 0, "x2": -0.51328, "y2": 3.36882, "stops": [
{"offset":0.00534,"color":"#0000"},{"offset":0.00714,"color":"#111"},{"offset":0.00894,"color":"#0000"},{"offset":0.01963,"color":"#0000"},{"offset":0.02143,"color":"#111"},{"offset":0.02323,"color":"#0000"},{"offset":0.03391,"color":"#0000"},{"offset":0.03571,"color":"#111"},{"offset":0.03751,"color":"#0000"},{"offset":0.0482,"color":"#0000"},{"offset":0.05,"color":"#111"},{"offset":0.0518,"color":"#0000"},{"offset":0.06249,"color":"#0000"},{"offset":0.06429,"color":"#111"},{"offset":0.06609,"color":"#0000"},{"offset":0.07677,"color":"#0000"},{"offset":0.07857,"color":"#111"},{"offset":0.08037,"color":"#0000"},{"offset":0.09106,"color":"#0000"},{"offset":0.09286,"color":"#111"},{"offset":0.09466,"color":"#0000"},
{"offset":0.10534,"color":"#0000"},{"offset":0.10714,"color":"#111"},{"offset":0.10894,"color":"#0000"},{"offset":0.11963,"color":"#0000"},{"offset":0.12143,"color":"#111"},{"offset":0.12323,"color":"#0000"},{"offset":0.13391,"color":"#0000"},{"offset":0.13571,"color":"#111"},{"offset":0.13751,"color":"#0000"},{"offset":0.1482,"color":"#0000"},{"offset":0.15,"color":"#111"},{"offset":0.1518,"color":"#0000"},{"offset":0.16249,"color":"#0000"},{"offset":0.16429,"color":"#111"},{"offset":0.16609,"color":"#0000"},{"offset":0.17677,"color":"#0000"},{"offset":0.17857,"color":"#111"},{"offset":0.18037,"color":"#0000"},{"offset":0.19106,"color":"#0000"},{"offset":0.19286,"color":"#111"},{"offset":0.19466,"color":"#0000"},
{"offset":0.20534,"color":"#0000"},{"offset":0.20714,"color":"#111"},{"offset":0.20894,"color":"#0000"},{"offset":0.21963,"color":"#0000"},{"offset":0.22143,"color":"#111"},{"offset":0.22323,"color":"#0000"},{"offset":0.23391,"color":"#0000"},{"offset":0.23571,"color":"#111"},{"offset":0.23751,"color":"#0000"},{"offset":0.2482,"color":"#0000"},{"offset":0.25,"color":"#111"},{"offset":0.2518,"color":"#0000"},{"offset":0.26249,"color":"#0000"},{"offset":0.26429,"color":"#111"},{"offset":0.26609,"color":"#0000"},{"offset":0.27677,"color":"#0000"},{"offset":0.27857,"color":"#111"},{"offset":0.28037,"color":"#0000"},{"offset":0.29106,"color":"#0000"},{"offset":0.29286,"color":"#111"},{"offset":0.29466,"color":"#0000"},
{"offset":0.30534,"color":"#0000"},{"offset":0.30714,"color":"#111"},{"offset":0.30894,"color":"#0000"},{"offset":0.31963,"color":"#0000"},{"offset":0.32143,"color":"#111"},{"offset":0.32323,"color":"#0000"},{"offset":0.33391,"color":"#0000"},{"offset":0.33571,"color":"#111"},{"offset":0.33751,"color":"#0000"},{"offset":0.3482,"color":"#0000"},{"offset":0.35,"color":"#111"},{"offset":0.3518,"color":"#0000"},{"offset":0.36249,"color":"#0000"},{"offset":0.36429,"color":"#111"},{"offset":0.36609,"color":"#0000"}
]}}},
    {"transform": [{"filter": "datum.series === 'Mai 2005'"}],
     "mark": {"type": "bar", "fill": "transparent", "stroke": "black", "strokeWidth": 2.5}},
    {"mark": {"type": "text", "baseline": "alphabetic", "dy": -15, "fontSize": 33, "font": "Liberation Sans", "color": "black"},
     "encoding": {"text": {"field": "value", "type": "quantitative", "format": ".1f"}}}
  ]
},
{"data": {"values": [{}]}, "mark": {"type": "rule", "strokeWidth": 3, "color": "black"}, "encoding": {"y": {"datum": 120}}}
]
}
